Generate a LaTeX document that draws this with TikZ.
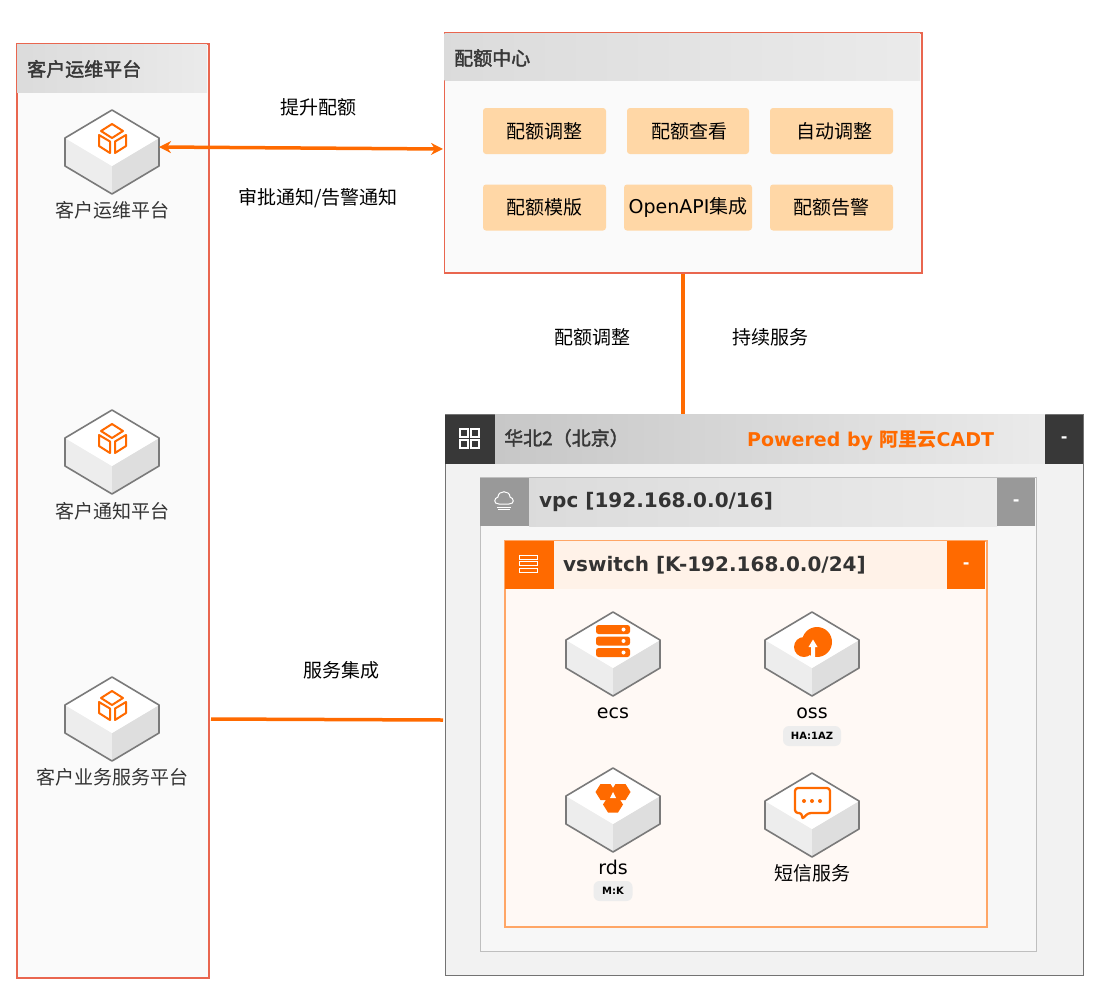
\documentclass[tikz,border=0pt]{standalone}
\usepackage{fontspec}
\setmainfont{Noto Sans CJK SC}
\newfontfamily\latinfont{DejaVu Sans}
\newfontfamily\titlefont[FakeBold=2]{Noto Sans CJK SC}
\definecolor{aliorange}{HTML}{FF6A00}
\definecolor{panelred}{HTML}{E9664F}
\definecolor{btnfill}{HTML}{FFD7A6}
\usetikzlibrary{arrows.meta, positioning}

\begin{document}
\begin{tikzpicture}[x=1pt,y=-1pt,
  panel/.style={rectangle,draw=panelred,line width=1.6pt,fill=black!2,anchor=north west,inner sep=0pt},
  head/.style={rectangle,anchor=north west,inner sep=0pt,left color=#1,right color=black!8},
  head/.default=black!14,
  tag/.style={rectangle,anchor=north west,inner sep=0pt,text=white,font=\latinfont\bfseries\fontsize{16}{18}\selectfont},
  title/.style={anchor=west,inner sep=0pt,text=black!78,font=\titlefont\fontsize{19}{21}\selectfont},
  subnet/.style={anchor=west,inner sep=0pt,text=black!80,font=\latinfont\bfseries\fontsize{20}{22}\selectfont},
  btn/.style={rectangle,fill=btnfill,rounded corners=3pt,inner sep=0pt,minimum height=46pt,font=\fontsize{19}{21}\selectfont},
  lbl/.style={inner sep=0pt,font=\fontsize{19}{21}\selectfont},
  latinlbl/.style={inner sep=0pt,font=\latinfont\fontsize{19}{21}\selectfont},
  badge/.style={rectangle,fill=black!7,rounded corners=6pt,inner sep=0pt,minimum height=20pt,font=\latinfont\bfseries\fontsize{10}{11}\selectfont},
  link/.style={draw=aliorange,line width=3.5pt},
  both/.style={link,{Stealth[length=12pt,width=12pt]}-{Stealth[length=12pt,width=12pt]}},
  icon/.style={draw=aliorange,line width=2pt,line join=round},
  cube/.pic={
    \fill[black!7] (-47,28) -- (0,56) -- (0,84) -- (-47,56) -- cycle;
    \fill[black!13] (47,28) -- (0,56) -- (0,84) -- (47,56) -- cycle;
    \fill[white] (0,0) -- (47,28) -- (0,56) -- (-47,28) -- cycle;
    \draw[black!52,line width=1.6pt,line join=round] (0,0) -- (47,28) -- (47,56) -- (0,84) -- (-47,56) -- (-47,28) -- cycle;
    \coordinate (-east) at (47,37);
  },
  boxicon/.pic={
    \draw[icon] (0,14) -- (11,21) -- (0,28) -- (-11,21) -- cycle;
    \draw[icon] (-13,25) -- (-2,31.5) -- (-2,43) -- (-13,36) -- cycle;
    \draw[icon] (14,25) -- (3,31.5) -- (3,43) -- (14,36) -- cycle;
  },
  ecsicon/.pic={
    \foreach \ty in {13,24.5,36}{
      \fill[aliorange,rounded corners=2.5pt] (-17,\ty) rectangle (17,\ty+9);
      \fill[white] (10.5,\ty+4.5) circle (2pt);
    }
  },
  ossicon/.pic={
    \fill[aliorange] (5,30) circle (15pt);
    \fill[aliorange] (-8,35) circle (10pt);
    \fill[white] (1,27.5) -- (5.5,35) -- (3,35) -- (3,46) -- (-1,46) -- (-1,35) -- (-3.5,35) -- cycle;
  },
  rdsicon/.pic={
    \foreach \hx/\hy in {-7.5/24,7.5/24,0/36.5}{
      \fill[aliorange,shift={(\hx,\hy)}] (-10,0) -- (-5,-8) -- (5,-8) -- (10,0) -- (5,8) -- (-5,8) -- cycle;
    }
    \fill[white] (0,24) -- (3,30) -- (-3,30) -- cycle;
  },
  smsicon/.pic={
    \draw[icon,line width=2.3pt,rounded corners=3pt] (-17,15) -- (18,15) -- (18,40) -- (-4,40) -- (-10,46.5) -- (-10,40) -- (-17,40) -- cycle;
    \foreach \dx in {-8,0,8}{\fill[aliorange] (\dx,28) circle (2pt);}
  }
]
  \useasboundingbox (0,0) rectangle (1097,1004);

  \node[panel,minimum width=192pt,minimum height=934pt] (cust) at (16,43) {};
  \node[head,minimum width=190pt,minimum height=48pt] (custhead) at (17,44) {};
  \node[title] (custtitle) at (27,69) {客户运维平台};

  \node[panel,minimum width=477.5pt,minimum height=240pt] (quota) at (443.5,32) {};
  \node[head,minimum width=475.5pt,minimum height=47pt] (quotahead) at (444.5,33) {};
  \node[title] (quotatitle) at (454,58) {配额中心};

  \node[btn,minimum width=123pt] (adjust)   at (544.5,131) {配额调整};
  \node[btn,minimum width=122pt] (view)     at (688,131)   {\hspace{3pt}配额查看};
  \node[btn,minimum width=123pt] (auto)     at (831.5,131) {\hspace{6pt}自动调整};
  \node[btn,minimum width=123pt] (template) at (544.5,207.5) {配额模版};
  \node[btn,minimum width=128pt] (openapi)  at (688,207.5) {{\latinfont OpenAPI}集成};
  \node[btn,minimum width=123pt] (alarm)    at (831.5,207.5) {配额告警};

  \node[rectangle,draw=black!55,line width=1pt,fill=black!5,anchor=north west,inner sep=0pt,minimum width=638pt,minimum height=561pt] (region) at (445,414) {};
  \node[head=black!22,minimum width=550pt,minimum height=49pt] (regionhead) at (495,414.5) {};
  \node[tag,fill=black!78,minimum width=50pt,minimum height=49pt] (regionicon) at (445,414.5) {};
  \node[tag,fill=black!78,minimum width=38pt,minimum height=49pt] (regionend) at (1045,414.5) {\raisebox{-2pt}{-}};
  \node[title] (regiontitle) at (504,438) {华北2（北京）};
  \node[anchor=west,inner sep=0pt,text=aliorange,font=\latinfont\bfseries\fontsize{19}{21}\selectfont] (powered) at (747,441) {Powered by {\fontspec{Noto Sans CJK SC}\bfseries 阿里云}CADT};

  \node[rectangle,draw=black!25,line width=1pt,fill=black!3,anchor=north west,inner sep=0pt,minimum width=556pt,minimum height=474pt] (vpc) at (480,477) {};
  \node[head=black!14,minimum width=468pt,minimum height=48pt] (vpchead) at (529,478) {};
  \node[tag,fill=black!40,minimum width=49pt,minimum height=48pt] (vpcicon) at (480,478) {};
  \node[tag,fill=black!40,minimum width=38pt,minimum height=48pt] (vpcend) at (997,478) {\raisebox{-2pt}{-}};
  \node[subnet] (vpctitle) at (539,502) {vpc [192.168.0.0/16]};

  \node[rectangle,draw=aliorange!60,line width=1.5pt,fill=aliorange!4,anchor=north west,inner sep=0pt,minimum width=482pt,minimum height=386pt] (vsw) at (504,540) {};
  \node[rectangle,fill=aliorange!9,anchor=north west,inner sep=0pt,minimum width=394pt,minimum height=48pt] (vswhead) at (553,541) {};
  \node[tag,fill=aliorange,minimum width=49pt,minimum height=48pt] (vswicon) at (504.5,541) {};
  \node[tag,fill=aliorange,minimum width=38pt,minimum height=48pt] (vswend) at (947,541) {\raisebox{-2pt}{-}};
  \node[subnet] (vswtitle) at (563,565) {vswitch [K-192.168.0.0/24]};

  \foreach \gx/\gy in {460/429,471/429,460/440,471/440}{
    \draw[white,line width=1.4pt] (\gx,\gy) rectangle (\gx+8,\gy+8);
  }
  \draw[white,line width=1pt] (499,504) .. controls (493,504) and (494,498) .. (498,497) .. controls (498,490) and (510,490) .. (510,497) .. controls (514,498) and (515,504) .. (509,504) -- cycle;
  \draw[white,line width=1pt] (497,507) -- (511,507);
  \draw[white,line width=1pt] (498,509.5) -- (510,509.5);
  \foreach \sy in {555,561.5,568}{
    \draw[white,line width=1pt] (519,\sy) rectangle (537,\sy+4);
  }

  \pic (custcube) at (112,110) {cube};
  \pic at (112,110) {boxicon};
  \node[lbl,text=black!80] (custlbl) at (112,210) {客户运维平台};
  \pic (notifycube) at (112,410) {cube};
  \pic at (112,410) {boxicon};
  \node[lbl,text=black!80] (notifylbl) at (112,511) {客户通知平台};
  \pic (bizcube) at (112,677) {cube};
  \pic at (112,677) {boxicon};
  \node[lbl,text=black!80] (bizlbl) at (112,777) {客户业务服务平台};

  \pic (ecs) at (613,612) {cube};
  \pic at (613,612) {ecsicon};
  \node[latinlbl] (ecslbl) at (613,713) {ecs};
  \pic (oss) at (812,612) {cube};
  \pic at (812,612) {ossicon};
  \node[latinlbl] (osslbl) at (812,713) {oss};
  \node[badge,minimum width=58pt] (ossbadge) at (812,736) {HA:1AZ};
  \pic (rds) at (613,768) {cube};
  \pic at (613,768) {rdsicon};
  \node[latinlbl] (rdslbl) at (613,867) {rds};
  \node[badge,minimum width=39pt] (rdsbadge) at (613,891) {M:K};
  \pic (sms) at (812,773) {cube};
  \pic at (812,773) {smsicon};
  \node[lbl] (smslbl) at (812,873) {短信服务};

  \coordinate (quotain) at (443,149);
  \coordinate (bizout) at (211,719);
  \coordinate (regionin) at (443,720);
  \draw[both] (custcube-east) -- (quotain);
  \draw[link] (quota.south) -- (quota.south |- region.north);
  \draw[link] (bizout) -- (regionin);

  \node[lbl] (raise)   at (318,107) {提升配额};
  \node[lbl] (approve) at (318,198) {审批通知/告警通知};
  \node[lbl] (tune)    at (592,337) {配额调整};
  \node[lbl] (serve)   at (770,337) {持续服务};
  \node[lbl] (integ)   at (341,670) {服务集成};
\end{tikzpicture}
\end{document}
